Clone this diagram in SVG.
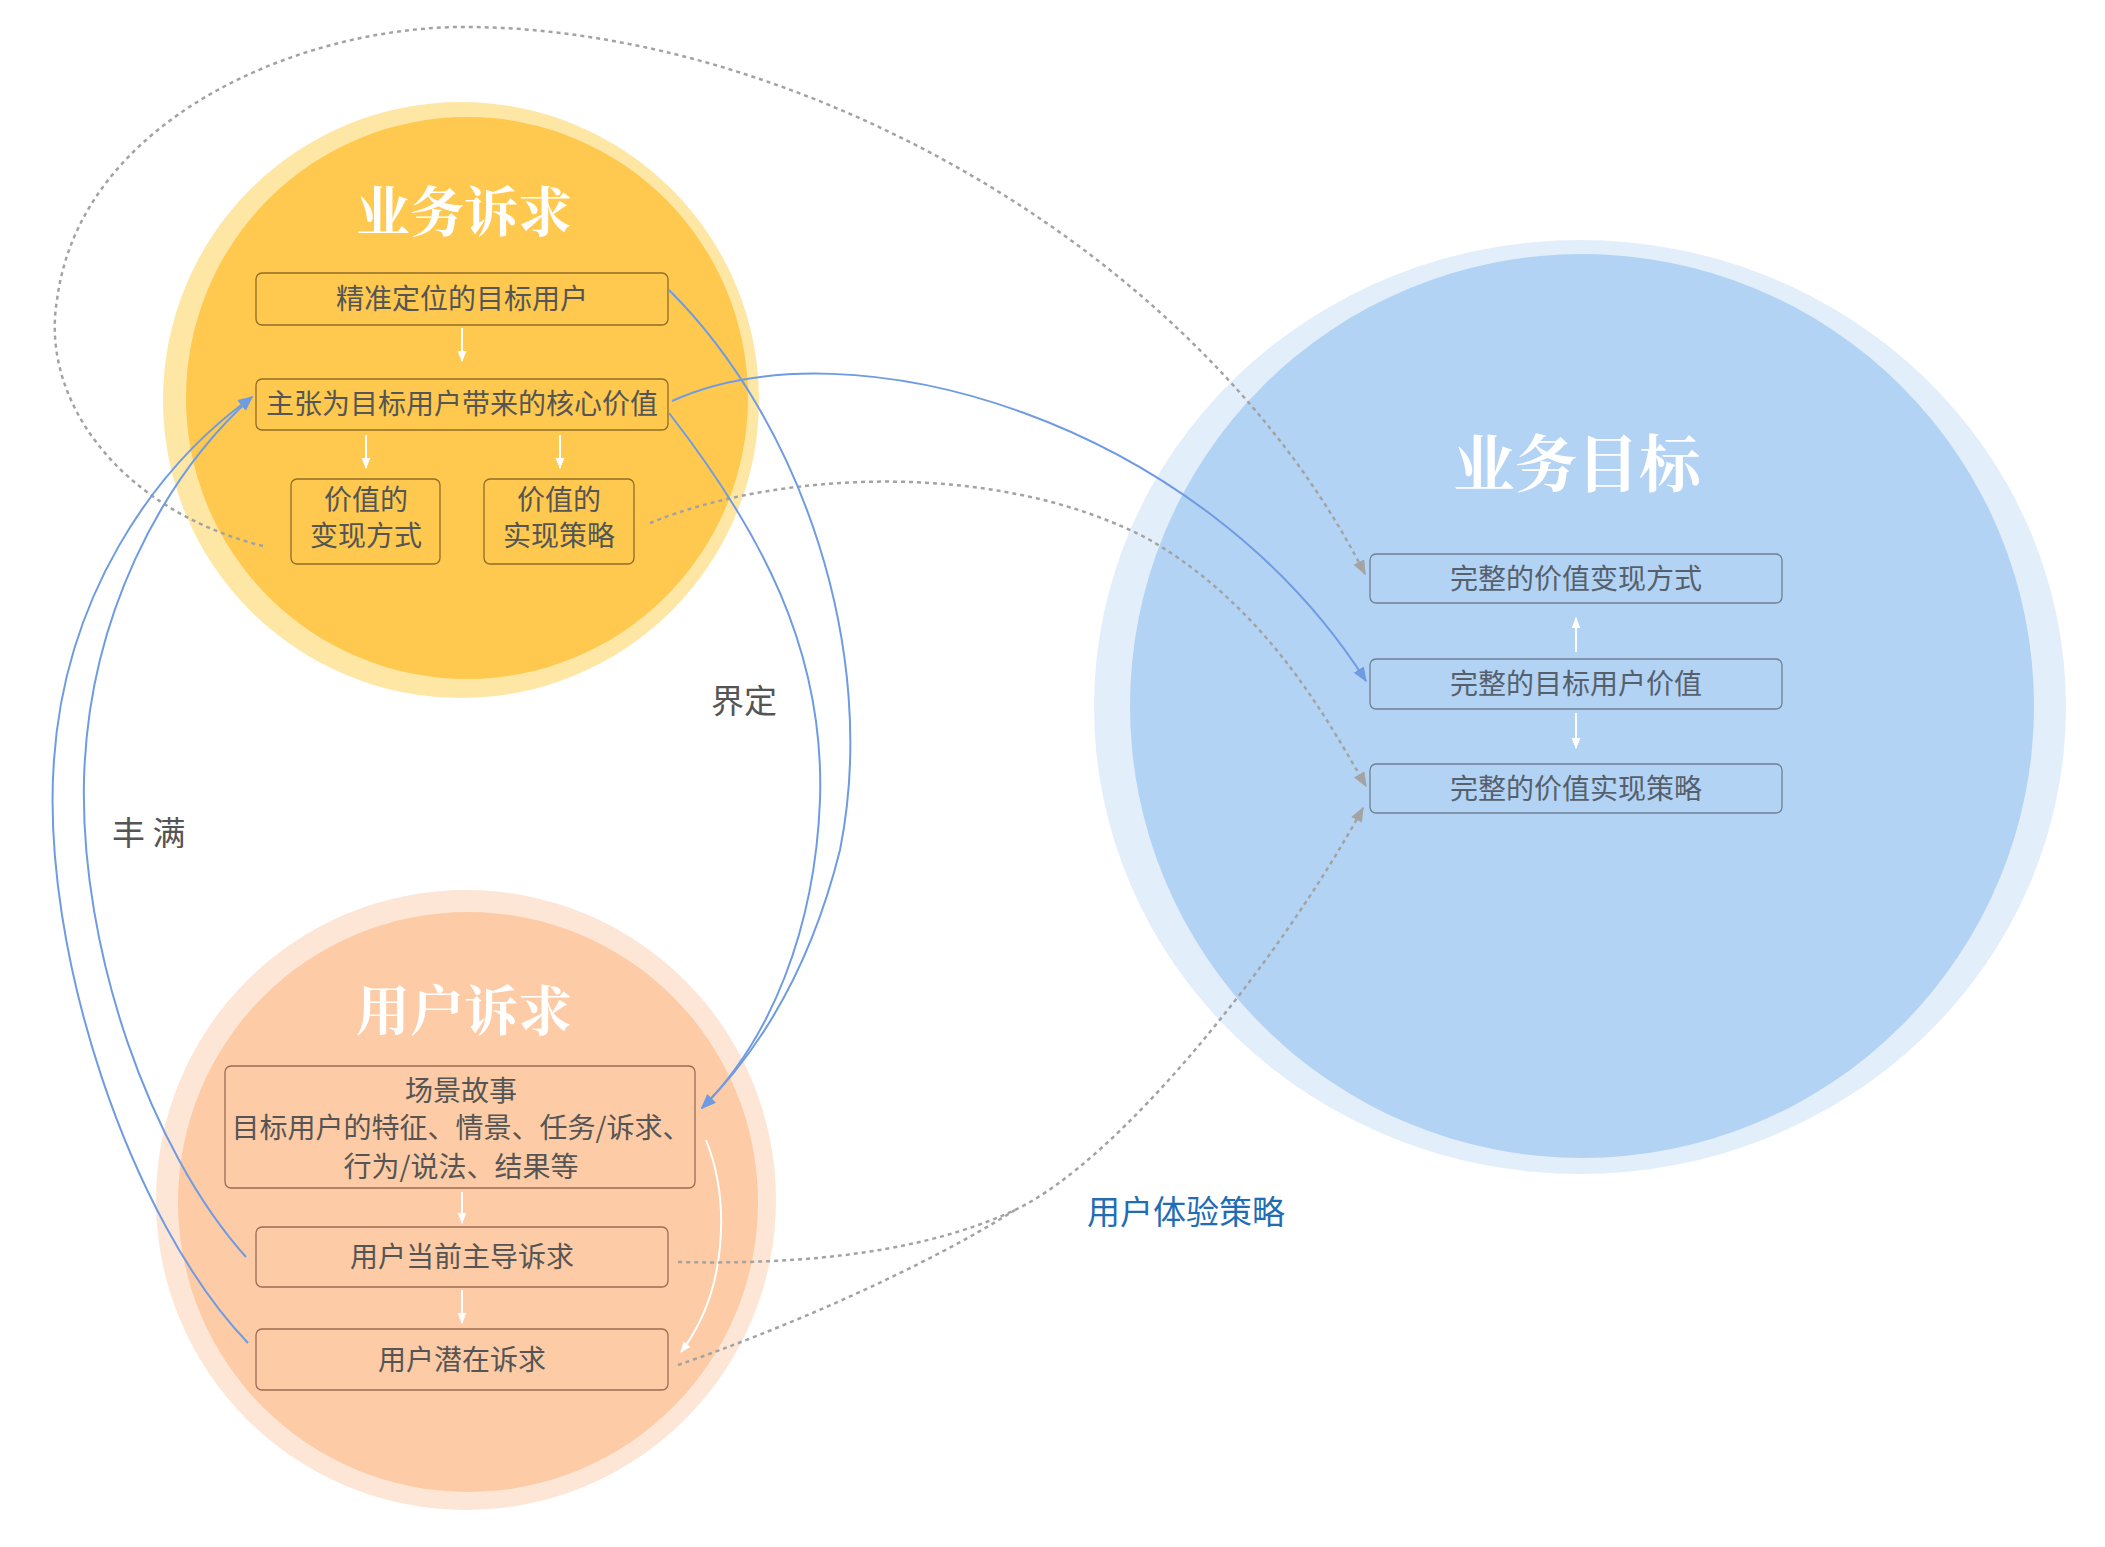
<svg xmlns="http://www.w3.org/2000/svg" width="2105" height="1547" viewBox="0 0 2105 1547">
<defs>
<style>
.box{fill:none;stroke-width:1.3}
.yb{stroke:#8f6d28}
.ob{stroke:#9a6c52}
.bb{stroke:#6f8094}
.t{font-family:"Noto Sans CJK SC","Noto Sans",sans-serif;font-size:28px;fill:#555;text-anchor:middle}
.tb{fill:#56606c}
.title{font-family:"Noto Serif CJK SC","Noto Sans CJK SC","Noto Sans",serif;font-weight:700;fill:#fff;text-anchor:middle}
.lbl{font-family:"Noto Sans CJK SC","Noto Sans",sans-serif;font-size:33px;fill:#555}
.blue{fill:none;stroke:#6f9be3;stroke-width:2}
.gray{fill:none;stroke:#a3a3a3;stroke-width:2.5;stroke-dasharray:4 4}
.white{fill:none;stroke:#fff;stroke-width:2}
</style>
<marker id="mb" viewBox="0 0 10 10" refX="9" refY="5" markerWidth="15" markerHeight="15" markerUnits="userSpaceOnUse" orient="auto"><path d="M0,1 L10,5 L0,9 z" fill="#6f9be3"/></marker>
<marker id="mg" viewBox="0 0 10 10" refX="9" refY="5" markerWidth="15" markerHeight="15" markerUnits="userSpaceOnUse" orient="auto"><path d="M0,1 L10,5 L0,9 z" fill="#a3a3a3"/></marker>
<marker id="mw" viewBox="0 0 10 10" refX="9" refY="5" markerWidth="11" markerHeight="11" markerUnits="userSpaceOnUse" orient="auto"><path d="M0,1 L10,5 L0,9 z" fill="#fff"/></marker>
</defs>
<rect width="2105" height="1547" fill="#fff"/>

<g id="circle-business-goal">
<ellipse cx="1580" cy="707" rx="486" ry="467" fill="#e3eefb"/>
<circle cx="1582" cy="706" r="452" fill="#b3d3f4"/>
<text class="title" x="1577" y="487" font-size="62">业务目标</text>
</g>

<g id="circle-business-demand">
<circle cx="461" cy="400" r="298" fill="#fee6a4"/>
<circle cx="467" cy="398" r="281" fill="#fec94e"/>
<text class="title" x="464" y="232" font-size="54">业务诉求</text>
</g>

<g id="circle-user-demand">
<circle cx="466" cy="1200" r="310" fill="#fee6d6"/>
<circle cx="468" cy="1202" r="290" fill="#fdcba5"/>
<text class="title" x="464" y="1031" font-size="54">用户诉求</text>
</g>

<g id="node-target-user">
<rect class="box yb" x="256" y="273" width="412" height="52" rx="6"/>
<text class="t" x="462" y="309">精准定位的目标用户</text>
</g>
<g id="node-core-value">
<rect class="box yb" x="256" y="379" width="412" height="51" rx="6"/>
<text class="t" x="462" y="414">主张为目标用户带来的核心价值</text>
</g>
<g id="node-monetize">
<rect class="box yb" x="291" y="479" width="149" height="85" rx="6"/>
<text class="t" x="366" y="510">价值的</text>
<text class="t" x="366" y="546">变现方式</text>
</g>
<g id="node-realize">
<rect class="box yb" x="484" y="479" width="150" height="85" rx="6"/>
<text class="t" x="559" y="510">价值的</text>
<text class="t" x="559" y="546">实现策略</text>
</g>

<g id="node-scenario">
<rect class="box ob" x="225" y="1066" width="470" height="122" rx="6"/>
<text class="t" x="461" y="1101" font-size="27">场景故事</text>
<text class="t" x="461" y="1138" font-size="27">目标用户的特征、情景、任务/诉求、</text>
<text class="t" x="461" y="1177" font-size="27">行为/说法、结果等</text>
</g>
<g id="node-current-demand">
<rect class="box ob" x="256" y="1227" width="412" height="60" rx="6"/>
<text class="t" x="462" y="1267">用户当前主导诉求</text>
</g>
<g id="node-latent-demand">
<rect class="box ob" x="256" y="1329" width="412" height="61" rx="6"/>
<text class="t" x="462" y="1370">用户潜在诉求</text>
</g>

<g id="node-full-monetize">
<rect class="box bb" x="1370" y="554" width="412" height="49" rx="6"/>
<text class="t tb" x="1576" y="589">完整的价值变现方式</text>
</g>
<g id="node-full-user-value">
<rect class="box bb" x="1370" y="659" width="412" height="50" rx="6"/>
<text class="t tb" x="1576" y="694">完整的目标用户价值</text>
</g>
<g id="node-full-realize">
<rect class="box bb" x="1370" y="764" width="412" height="49" rx="6"/>
<text class="t tb" x="1576" y="799">完整的价值实现策略</text>
</g>

<g id="connectors">
<path class="white" d="M462,328 L462,361" marker-end="url(#mw)"/>
<path class="white" d="M366,435 L366,468" marker-end="url(#mw)"/>
<path class="white" d="M560,435 L560,468" marker-end="url(#mw)"/>
<path class="white" d="M462,1192 L462,1223" marker-end="url(#mw)"/>
<path class="white" d="M462,1290 L462,1323" marker-end="url(#mw)"/>
<path class="white" d="M1576,652 L1576,618" marker-end="url(#mw)"/>
<path class="white" d="M1576,713 L1576,748" marker-end="url(#mw)"/>
<path class="white" d="M706,1140 C730,1200 728,1290 681,1352" marker-end="url(#mw)"/>

<path class="gray" d="M263,546 C120,510 40,400 57,300 C80,120 300,25 470,27 C800,30 1200,250 1365,574" marker-end="url(#mg)"/>
<path class="gray" d="M650,523 C780,470 1000,460 1150,540 C1270,610 1330,725 1366,786" marker-end="url(#mg)"/>
<path class="gray" d="M678,1262 C850,1266 950,1240 1015,1210 C1120,1160 1280,960 1363,808" marker-end="url(#mg)"/>
<path class="gray" d="M678,1365 C780,1330 920,1270 1015,1210"/>

<path class="blue" d="M672,401 C850,320 1200,420 1366,681" marker-end="url(#mb)"/>
<path class="blue" d="M669,290 C800,420 880,650 840,850 C810,970 760,1050 702,1108" marker-end="url(#mb)"/>
<path class="blue" d="M669,413 C760,530 825,650 820,800 C815,930 770,1040 702,1108" marker-end="url(#mb)"/>
<path class="blue" d="M248,1343 C130,1220 40,950 54,760 C65,600 150,470 252,397" marker-end="url(#mb)"/>
<path class="blue" d="M246,1257 C150,1150 80,950 84,780 C88,620 160,480 252,397" marker-end="url(#mb)"/>
</g>

<g id="labels">
<text class="lbl" x="711" y="713">界定</text>
<text class="lbl" x="112" y="845" font-size="34">丰 满</text>
<text class="lbl" x="1087" y="1224" font-size="34" style="fill:#1f6db5">用户体验策略</text>
</g>
</svg>
